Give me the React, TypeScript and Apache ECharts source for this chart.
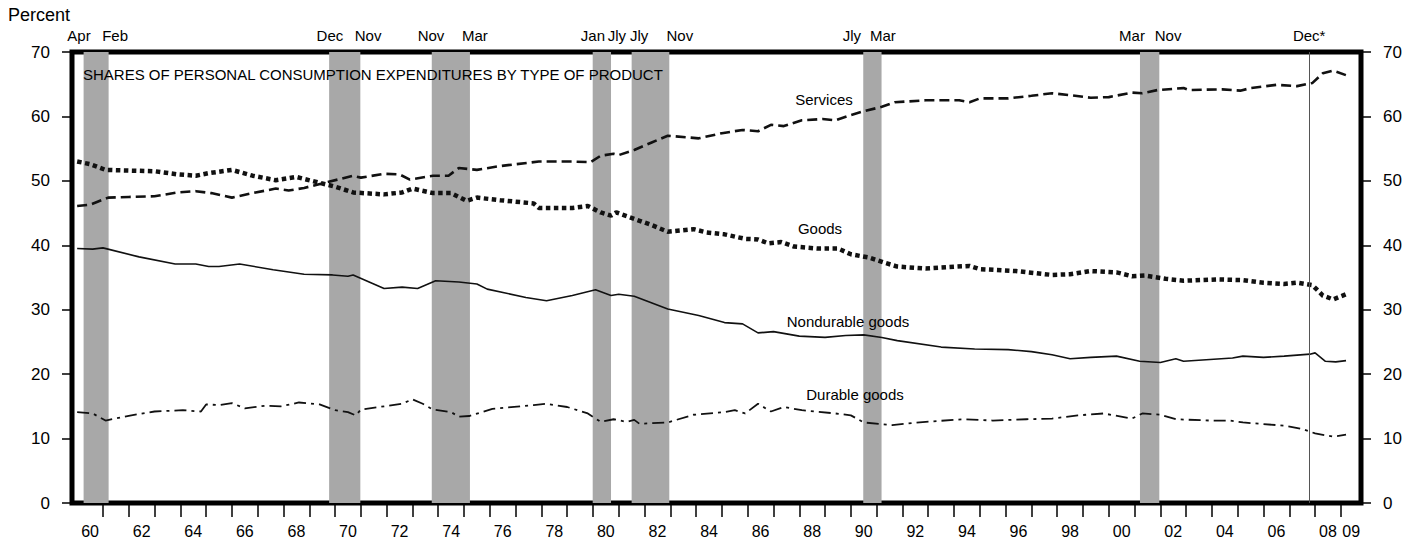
import React, { useEffect, useRef } from 'react';
import * as echarts from 'echarts';

// ---- Data (year as decimal, percent share) ----
const services: [number, number][] = [
  [1960.0, 46.1], [1960.5, 46.3], [1961.2, 47.4], [1962.0, 47.5], [1963.0, 47.6], [1963.9, 48.2], [1964.6, 48.4],
  [1965.2, 48.1], [1966.0, 47.4], [1966.8, 48.1], [1967.7, 48.8], [1968.2, 48.5], [1968.8, 48.9], [1969.6, 49.7],
  [1970.7, 50.8], [1971.0, 50.5], [1971.9, 51.1], [1972.5, 51.0], [1972.9, 50.2], [1973.8, 50.8], [1974.4, 50.8],
  [1974.8, 52.0], [1975.5, 51.7], [1976.4, 52.3], [1977.9, 53.0], [1979.2, 53.0], [1979.9, 52.9], [1980.3, 53.9],
  [1980.8, 54.2], [1981.0, 54.0], [1981.6, 54.8], [1982.3, 56.0], [1982.9, 57.0], [1984.1, 56.6], [1985.0, 57.4],
  [1985.8, 57.9], [1986.4, 57.7], [1986.9, 58.7], [1987.4, 58.5], [1988.1, 59.4], [1988.9, 59.6], [1989.4, 59.4],
  [1989.9, 60.1], [1990.5, 60.8], [1991.2, 61.5], [1991.7, 62.2], [1992.9, 62.5], [1994.2, 62.5], [1994.6, 62.2],
  [1995.0, 62.8], [1996.1, 62.8], [1997.0, 63.2], [1997.8, 63.6], [1998.5, 63.3], [1999.3, 62.9], [2000.0, 63.0],
  [2000.9, 63.7], [2001.3, 63.6], [2001.9, 64.1], [2002.9, 64.4], [2003.1, 64.1], [2004.4, 64.2], [2005.1, 64.0],
  [2005.5, 64.4], [2006.5, 64.9], [2007.3, 64.7], [2007.9, 65.2], [2008.3, 66.7], [2008.7, 67.1], [2009.2, 66.4],
];

const goods: [number, number][] = [
  [1960.0, 53.0], [1960.5, 52.6], [1961.1, 51.7], [1962.0, 51.6], [1963.0, 51.5], [1963.9, 51.0], [1964.6, 50.8],
  [1965.1, 51.2], [1966.0, 51.7], [1966.8, 50.8], [1967.7, 50.1], [1968.5, 50.6], [1969.4, 49.7], [1970.0, 49.1],
  [1970.7, 48.2], [1971.9, 47.9], [1972.6, 48.2], [1973.0, 48.8], [1973.8, 48.1], [1974.5, 48.1], [1975.1, 46.9],
  [1975.5, 47.4], [1976.4, 47.0], [1977.7, 46.5], [1977.9, 45.8], [1979.2, 45.8], [1979.8, 46.1], [1980.3, 45.1],
  [1980.7, 44.6], [1980.9, 45.1], [1981.6, 44.1], [1982.3, 43.1], [1982.9, 42.1], [1983.9, 42.5], [1984.4, 42.0],
  [1985.1, 41.7], [1985.9, 41.0], [1986.4, 40.9], [1986.8, 40.3], [1987.3, 40.5], [1987.8, 39.8], [1988.7, 39.5],
  [1989.5, 39.5], [1990.0, 38.6], [1990.7, 38.1], [1991.3, 37.3], [1991.8, 36.7], [1992.9, 36.4], [1994.6, 36.8],
  [1995.0, 36.3], [1996.4, 36.0], [1997.8, 35.4], [1998.5, 35.5], [1999.3, 36.0], [2000.3, 35.8], [2000.9, 35.2],
  [2001.4, 35.3], [2002.2, 34.8], [2002.9, 34.5], [2004.2, 34.7], [2005.2, 34.6], [2006.0, 34.2], [2006.8, 34.0],
  [2007.3, 34.2], [2007.9, 33.8], [2008.3, 32.2], [2008.7, 31.6], [2009.2, 32.4],
];

const nondurable: [number, number][] = [
  [1960.0, 39.5], [1960.6, 39.4], [1961.0, 39.6], [1962.4, 38.2], [1963.8, 37.1], [1964.6, 37.1], [1965.1, 36.7],
  [1965.5, 36.7], [1966.3, 37.1], [1967.6, 36.2], [1968.8, 35.5], [1969.9, 35.4], [1970.5, 35.2], [1970.7, 35.4],
  [1971.9, 33.3], [1972.6, 33.5], [1973.2, 33.3], [1973.9, 34.5], [1974.8, 34.3], [1975.5, 34.0], [1975.9, 33.2],
  [1977.4, 31.9], [1978.2, 31.4], [1979.2, 32.2], [1980.1, 33.1], [1980.7, 32.2], [1981.0, 32.4], [1981.6, 32.1],
  [1982.9, 30.1], [1984.1, 29.1], [1985.1, 28.0], [1985.8, 27.8], [1986.4, 26.4], [1987.0, 26.6], [1988.0, 25.9],
  [1989.0, 25.7], [1989.8, 26.0], [1990.5, 26.1], [1991.2, 25.7], [1991.8, 25.2], [1993.5, 24.2], [1994.8, 23.9],
  [1996.1, 23.8], [1997.0, 23.5], [1997.8, 23.0], [1998.5, 22.4], [1999.3, 22.6], [2000.3, 22.8], [2001.2, 22.0],
  [2002.0, 21.8], [2002.6, 22.4], [2002.9, 22.0], [2004.8, 22.5], [2005.2, 22.8], [2006.0, 22.6], [2006.8, 22.8],
  [2007.8, 23.1], [2008.0, 23.3], [2008.4, 22.0], [2008.8, 21.9], [2009.2, 22.1],
];

const durable: [number, number][] = [
  [1960.0, 14.1], [1960.6, 13.9], [1961.1, 12.8], [1962.1, 13.6], [1963.0, 14.2], [1964.1, 14.4], [1964.8, 14.2],
  [1965.0, 15.3], [1965.5, 15.2], [1966.0, 15.5], [1966.5, 14.7], [1967.3, 15.1], [1967.9, 15.0], [1968.6, 15.6],
  [1969.4, 15.3], [1970.0, 14.4], [1970.5, 14.1], [1970.8, 13.6], [1971.0, 14.5], [1972.6, 15.4], [1973.0, 16.1],
  [1973.4, 15.4], [1973.8, 14.5], [1974.5, 14.1], [1974.8, 13.4], [1975.2, 13.5], [1976.1, 14.6], [1977.7, 15.2],
  [1978.2, 15.4], [1979.0, 14.9], [1979.8, 13.9], [1980.3, 12.6], [1980.8, 13.0], [1981.3, 12.6], [1981.6, 12.9],
  [1981.8, 12.3], [1982.9, 12.5], [1983.9, 13.7], [1985.1, 14.1], [1985.5, 14.4], [1985.9, 13.9], [1986.4, 15.4],
  [1986.9, 14.2], [1987.4, 14.9], [1988.1, 14.4], [1989.4, 13.9], [1990.0, 13.6], [1990.5, 12.5], [1991.6, 12.1],
  [1992.9, 12.6], [1994.4, 13.0], [1995.5, 12.8], [1996.8, 13.0], [1997.8, 13.1], [1998.8, 13.6], [1999.8, 13.9],
  [2000.9, 13.1], [2001.3, 13.9], [2002.0, 13.7], [2002.6, 13.0], [2003.9, 12.8], [2004.7, 12.8], [2005.2, 12.5],
  [2006.8, 12.0], [2007.5, 11.5], [2008.0, 10.8], [2008.7, 10.3], [2009.2, 10.6],
];

// Recession bands (decimal years) and their labels
const recessionStarts = [1960.25, 1969.77, 1973.75, 1979.99, 1981.5, 1990.48, 2001.21];
const recessionEnds = [1961.22, 1970.98, 1975.23, 1980.7, 1982.96, 1991.19, 2001.96];
const recessionLabelText = ['Apr', 'Feb', 'Dec', 'Nov', 'Nov', 'Mar', 'Jan', 'Jly', 'Jly', 'Nov', 'Jly', 'Mar', 'Mar', 'Nov'];
const recessionLabelAt = [1960.07, 1961.47, 1969.8, 1971.28, 1973.72, 1975.42, 1980.0, 1980.93, 1981.79, 1983.37, 1990.04, 1991.24, 2000.9, 2002.3];
const peakLineAt = 2007.77;
const peakLabel = 'Dec*';

// Axis ticks/labels
const xTickYears = [
  1961, 1962, 1963, 1964, 1965, 1966, 1967, 1968, 1969, 1970, 1971, 1972, 1973, 1974, 1975, 1976, 1977, 1978, 1979,
  1980, 1981, 1982, 1983, 1984, 1985, 1986, 1987, 1988, 1989, 1990, 1991, 1992, 1993, 1994, 1995, 1996, 1997, 1998,
  1999, 2000, 2001, 2002, 2003, 2004, 2005, 2006, 2007, 2008, 2009,
];
const xLabelAt = [
  1960.5, 1962.5, 1964.5, 1966.5, 1968.5, 1970.5, 1972.5, 1974.5, 1976.5, 1978.5, 1980.5, 1982.5, 1984.5, 1986.5,
  1988.5, 1990.5, 1992.5, 1994.5, 1996.5, 1998.5, 2000.5, 2002.5, 2004.5, 2006.5, 2008.5, 2009.4,
];
const xLabelText = [
  '60', '62', '64', '66', '68', '70', '72', '74', '76', '78', '80', '82', '84', '86', '88', '90', '92', '94', '96',
  '98', '00', '02', '04', '06', '08', '09',
];

const FONT = '"Liberation Sans", Arial, Helvetica, sans-serif';

export default function App() {
  const ref = useRef<HTMLDivElement>(null);

  useEffect(() => {
    document.body.style.margin = '0';
    const chart = echarts.init(ref.current!, null, { renderer: 'svg' });

    const bandData = recessionStarts.map((s, i) => [{ xAxis: s }, { xAxis: recessionEnds[i] }]);
    const labelLines: any[] = recessionLabelAt.map((x, i) => ({
      xAxis: x,
      lineStyle: { color: 'rgba(0,0,0,0)', width: 0 },
      label: { formatter: recessionLabelText[i], color: '#000' },
    }));
    labelLines.push({
      xAxis: peakLineAt,
      lineStyle: { color: '#555', width: 1, type: 'solid' },
      label: { formatter: peakLabel, color: '#000' },
    });

    const lineSeries = (name: string, data: [number, number][], lineStyle: any) => ({
      name,
      type: 'line',
      data,
      showSymbol: false,
      symbol: 'none',
      z: 4,
      lineStyle: { color: '#111', ...lineStyle },
      silent: true,
    });

    const option: any = {
      animation: false,
      textStyle: { fontFamily: FONT, color: '#000' },
      grid: {
        left: 72,
        top: 52,
        width: 1289,
        height: 451,
        show: true,
        borderColor: '#000',
        borderWidth: 5,
        backgroundColor: 'transparent',
      },
      xAxis: {
        type: 'value',
        min: 1959.8,
        max: 2009.78,
        axisLine: { show: false },
        splitLine: { show: false },
        axisTick: {
          show: true,
          length: 14,
          inside: false,
          customValues: xTickYears,
          lineStyle: { color: '#000', width: 1.5 },
        },
        axisLabel: {
          show: true,
          customValues: xLabelAt,
          margin: 20,
          fontSize: 16,
          color: '#000',
          fontFamily: FONT,
          formatter: (v: number) => {
            const idx = xLabelAt.indexOf(v);
            return idx >= 0 ? xLabelText[idx] : '';
          },
        },
      },
      yAxis: [
        {
          type: 'value',
          position: 'left',
          min: 0,
          max: 70,
          interval: 10,
          axisLine: { show: false },
          splitLine: { show: false },
          axisTick: { show: true, length: 10, lineStyle: { color: '#000', width: 1.5 } },
          axisLabel: { margin: 22, fontSize: 17, color: '#000', fontFamily: FONT },
        },
        {
          type: 'value',
          position: 'right',
          min: 0,
          max: 70,
          interval: 10,
          axisLine: { show: false },
          splitLine: { show: false },
          axisTick: { show: true, length: 10, lineStyle: { color: '#000', width: 1.5 } },
          axisLabel: { margin: 22, fontSize: 17, color: '#000', fontFamily: FONT },
        },
      ],
      series: [
        {
          name: 'recessions',
          type: 'line',
          data: [],
          z: 1,
          silent: true,
          markArea: {
            silent: true,
            itemStyle: { color: '#a8a8a8', opacity: 1 },
            data: bandData,
          },
          markLine: {
            silent: true,
            symbol: ['none', 'none'],
            label: {
              show: true,
              position: 'end',
              distance: 9,
              fontSize: 15,
              color: '#000',
              fontFamily: FONT,
            },
            data: labelLines,
          },
        },
        lineSeries('Services', services, { width: 2.6, type: [10, 5], cap: 'butt' }),
        lineSeries('Goods', goods, { width: 4.5, type: [4.5, 3.5], cap: 'butt' }),
        lineSeries('Nondurable goods', nondurable, { width: 1.6, type: 'solid' }),
        lineSeries('Durable goods', durable, { width: 1.8, type: [12, 5, 3, 5], cap: 'butt' }),
      ],
      graphic: [
        { type: 'text', left: 8, top: 6, style: { text: 'Percent', fontSize: 18, fill: '#000', fontFamily: FONT } },
        {
          type: 'text',
          x: 83,
          y: 74,
          style: {
            text: 'SHARES OF PERSONAL CONSUMPTION EXPENDITURES BY TYPE OF PRODUCT',
            fontSize: 15,
            fill: '#000',
            fontFamily: FONT,
            verticalAlign: 'middle',
          },
          z: 10,
        },
        { type: 'text', x: 824, y: 99, style: { text: 'Services', fontSize: 15, fill: '#000', align: 'center', verticalAlign: 'middle', fontFamily: FONT }, z: 10 },
        { type: 'text', x: 820, y: 228, style: { text: 'Goods', fontSize: 15, fill: '#000', align: 'center', verticalAlign: 'middle', fontFamily: FONT }, z: 10 },
        { type: 'text', x: 848, y: 321, style: { text: 'Nondurable goods', fontSize: 15, fill: '#000', align: 'center', verticalAlign: 'middle', fontFamily: FONT }, z: 10 },
        { type: 'text', x: 855, y: 394, style: { text: 'Durable goods', fontSize: 15, fill: '#000', align: 'center', verticalAlign: 'middle', fontFamily: FONT }, z: 10 },
      ],
    };

    chart.setOption(option);
    return () => chart.dispose();
  }, []);

  return <div ref={ref} style={{ width: 1424, height: 539 }} />;
}
